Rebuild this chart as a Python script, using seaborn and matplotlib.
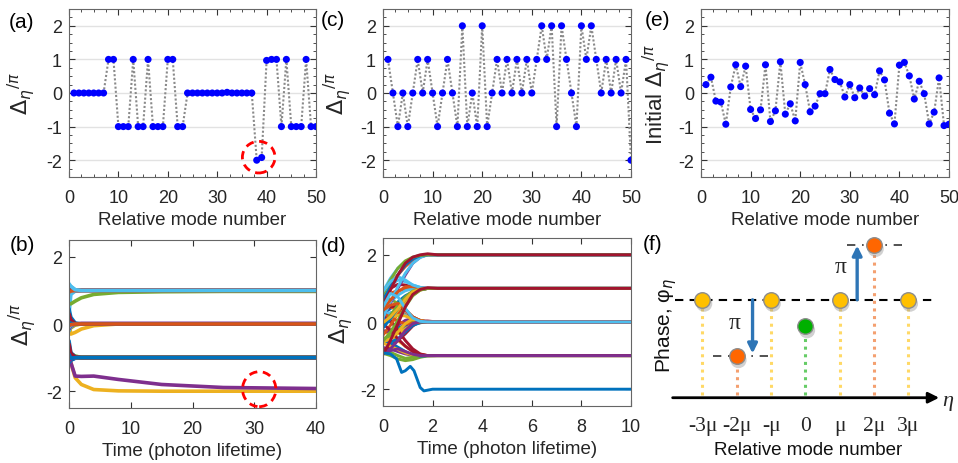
import numpy as np
import pandas as pd
import matplotlib
matplotlib.use("Agg")
import matplotlib.pyplot as plt
from matplotlib.patches import Ellipse
from matplotlib.ticker import AutoMinorLocator
import seaborn as sns

sns.set_theme(style="white")
plt.rcParams["font.family"] = ["Liberation Sans", "DejaVu Sans"]
plt.rcParams["mathtext.fontset"] = "dejavusans"
plt.rcParams["axes.unicode_minus"] = False

# ---------------- data ----------------
modes = list(range(1, 51))

# (a) final relative phase (units of pi)
a_vals = [0, 0, 0, 0, 0, 0, 0, 1, 1, -1,
          -1, -1, 1, -1, -1, 1, -1, -1, -1, 1,
          1, -1, -1, 0, 0, 0, 0, 0, 0, 0,
          0, 0.02, 0, 0, 0, 0, 0, -2, -1.92, 0.97,
          1, 1, -1, 1, -1, -1, -1, 1, -1, -1]

# (c) final relative phase (units of pi)
c_vals = [1, 0, -1, 0, -1, 0, 1, 0, 1, 0,
          -1, 0, 1, 0, -1, 2, -1, 0, -1, 2,
          -1, 0, 1, 0, 1, 0, 1, 0, 1, 0,
          1, 2, 1, 2, -1, 2, 1, 0, -1, 2,
          1, 2, 1, 0, 1, 0, 1, 0, 1, -2]

# (e) initial relative phase (units of pi)
e_vals = [0.25, 0.47, -0.24, -0.27, -0.93, 0.18, 0.84, 0.19, 0.80, -0.49,
          -0.76, -0.50, 0.84, -0.85, -0.53, 0.93, -0.63, -0.32, -0.83, 0.91,
          0.25, -0.56, -0.39, -0.02, -0.02, 0.70, 0.40, 0.33, -0.12, 0.25,
          -0.14, 0.15, -0.09, 0.13, -0.05, 0.66, 0.39, -0.60, -0.92, 0.83,
          0.91, 0.51, -0.18, 0.35, -0.02, -0.92, -0.57, 0.45, -0.97, -0.93]

# (b) time evolution, sampled at these times (photon lifetimes)
t_b = [0, 0.3, 1, 2, 4, 8, 15, 25, 40]
b_rows = [
    [0.05, 0.02, 0, 0, 0, 0, 0, 0, 0],
    [-0.10, -0.04, 0, 0, 0, 0, 0, 0, 0],
    [0.00, -0.12, -0.03, 0, 0, 0, 0, 0, 0],
    [0.12, 0.05, 0, 0, 0, 0, 0, 0, 0],
    [-0.15, -0.08, -0.01, 0, 0, 0, 0, 0, 0],
    [0.20, 0.08, 0.01, 0, 0, 0, 0, 0, 0],
    [-0.05, -0.02, 0, 0, 0, 0, 0, 0, 0],
    [1.00, 1.06, 1, 1, 1, 1, 1, 1, 1],
    [0.85, 0.93, 0.99, 1, 1, 1, 1, 1, 1],
    [-0.80, -0.92, -0.99, -1, -1, -1, -1, -1, -1],
    [-1.10, -1.05, -1, -1, -1, -1, -1, -1, -1],
    [-0.70, -0.88, -0.96, -0.99, -1, -1, -1, -1, -1],
    [1.10, 1.06, 1, 1, 1, 1, 1, 1, 1],
    [-0.85, -0.95, -1, -1, -1, -1, -1, -1, -1],
    [-1.00, -1.08, -1.02, -1, -1, -1, -1, -1, -1],
    [0.90, 0.96, 1, 1, 1, 1, 1, 1, 1],
    [-0.90, -0.98, -1, -1, -1, -1, -1, -1, -1],
    [-1.05, -1.00, -1, -1, -1, -1, -1, -1, -1],
    [-0.80, -0.88, -0.96, -0.99, -1, -1, -1, -1, -1],
    [0.30, 0.88, 0.98, 1, 1, 1, 1, 1, 1],
    [1.00, 1.00, 1, 1, 1, 1, 1, 1, 1],
    [-0.50, -0.85, -0.98, -1, -1, -1, -1, -1, -1],
    [-1.05, -1.02, -1, -1, -1, -1, -1, -1, -1],
    [0.00, -0.30, -0.25, -0.15, -0.05, 0, 0, 0, 0],
    [0.10, 0.05, 0, 0, 0, 0, 0, 0, 0],
    [-0.20, -0.10, -0.02, 0, 0, 0, 0, 0, 0],
    [-0.20, -0.08, 0, 0, 0, 0, 0, 0, 0],
    [0.20, 0.10, 0.01, 0, 0, 0, 0, 0, 0],
    [0.45, 0.20, 0.03, 0, 0, 0, 0, 0, 0],
    [-0.10, -0.05, 0, 0, 0, 0, 0, 0, 0],
    [0.05, -0.05, -0.01, 0, 0, 0, 0, 0, 0],
    [-0.15, -0.06, 0, 0.02, 0.02, 0.02, 0.02, 0.02, 0.02],
    [0.15, 0.06, 0, 0, 0, 0, 0, 0, 0],
    [-0.10, -0.03, 0, 0, 0, 0, 0, 0, 0],
    [0.30, 0.12, 0.01, 0, 0, 0, 0, 0, 0],
    [0.05, 0.02, 0, 0, 0, 0, 0, 0, 0],
    [-0.05, -0.02, 0, 0, 0, 0, 0, 0, 0],
    [-0.95, -1.15, -1.60, -1.80, -1.95, -1.99, -2, -2, -2],
    [-1.00, -1.15, -1.55, -1.56, -1.55, -1.65, -1.80, -1.89, -1.92],
    [0.60, 0.60, 0.68, 0.78, 0.88, 0.94, 0.96, 0.97, 0.97],
    [1.15, 1.12, 1.02, 1, 1, 1, 1, 1, 1],
    [1.05, 1.02, 1, 1, 1, 1, 1, 1, 1],
    [-1.15, -1.08, -1.01, -1, -1, -1, -1, -1, -1],
    [0.95, 0.98, 1, 1, 1, 1, 1, 1, 1],
    [-0.95, -0.98, -1, -1, -1, -1, -1, -1, -1],
    [-1.10, -1.04, -1, -1, -1, -1, -1, -1, -1],
    [-0.90, -0.95, -0.99, -1, -1, -1, -1, -1, -1],
    [1.20, 1.12, 1.02, 1, 1, 1, 1, 1, 1],
    [-0.60, -0.88, -0.98, -1, -1, -1, -1, -1, -1],
    [-0.90, -1.02, -1, -1, -1, -1, -1, -1, -1],
]

# (d) time evolution, sampled at these times (photon lifetimes)
t_d = [0, 0.3, 0.6, 0.9, 1.2, 1.5, 1.8, 2.2, 10]
d_rows = [
    [0.25, 0.40, 0.60, 0.78, 0.90, 0.97, 1.0, 1.0, 1.0],
    [0.47, 0.45, 0.35, 0.22, 0.10, 0.03, 0.0, 0.0, 0.0],
    [-0.24, -0.40, -0.55, -0.72, -0.87, -0.96, -1.0, -1.0, -1.0],
    [-0.27, -0.25, -0.18, -0.10, -0.03, 0.0, 0.0, 0.0, 0.0],
    [-0.93, -1.00, -1.10, -1.15, -1.12, -1.05, -1.01, -1.0, -1.0],
    [0.18, 0.28, 0.30, 0.20, 0.08, 0.02, 0.0, 0.0, 0.0],
    [0.84, 1.00, 1.12, 1.10, 1.04, 1.01, 1.0, 1.0, 1.0],
    [0.19, 0.00, -0.15, -0.18, -0.08, -0.02, 0.0, 0.0, 0.0],
    [0.80, 0.86, 0.93, 0.98, 1.00, 1.0, 1.0, 1.0, 1.0],
    [-0.49, -0.45, -0.35, -0.20, -0.08, -0.02, 0.0, 0.0, 0.0],
    [-0.76, -0.80, -0.88, -0.95, -0.99, -1.0, -1.0, -1.0, -1.0],
    [-0.50, -0.42, -0.25, -0.05, 0.05, 0.03, 0.0, 0.0, 0.0],
    [0.84, 1.10, 1.25, 1.20, 1.10, 1.03, 1.0, 1.0, 1.0],
    [-0.85, -0.72, -0.55, -0.35, -0.12, 0.03, 0.03, 0.0, 0.0],
    [-0.53, -0.62, -0.75, -0.88, -0.98, -1.03, -1.0, -1.0, -1.0],
    [0.93, 1.15, 1.40, 1.65, 1.85, 1.95, 2.0, 2.0, 2.0],
    [-0.63, -0.72, -0.82, -0.92, -0.98, -1.0, -1.0, -1.0, -1.0],
    [-0.32, -0.25, -0.10, 0.05, 0.10, 0.05, 0.0, 0.0, 0.0],
    [-0.83, -0.90, -1.00, -1.08, -1.05, -1.01, -1.0, -1.0, -1.0],
    [0.91, 1.30, 1.60, 1.80, 1.90, 1.97, 2.0, 2.0, 2.0],
    [0.25, 0.05, -0.25, -0.55, -0.80, -0.95, -1.0, -1.0, -1.0],
    [-0.56, -0.60, -0.50, -0.30, -0.10, -0.02, 0.0, 0.0, 0.0],
    [-0.39, -0.10, 0.25, 0.55, 0.80, 0.95, 1.0, 1.0, 1.0],
    [-0.02, 0.10, 0.20, 0.18, 0.08, 0.02, 0.0, 0.0, 0.0],
    [-0.02, 0.20, 0.45, 0.70, 0.88, 0.97, 1.0, 1.0, 1.0],
    [0.70, 0.68, 0.55, 0.35, 0.15, 0.04, 0.0, 0.0, 0.0],
    [0.40, 0.60, 0.80, 0.93, 0.99, 1.0, 1.0, 1.0, 1.0],
    [0.33, 0.45, 0.48, 0.35, 0.15, 0.04, 0.0, 0.0, 0.0],
    [-0.12, 0.15, 0.45, 0.70, 0.88, 0.97, 1.0, 1.0, 1.0],
    [0.25, 0.15, 0.02, -0.05, -0.03, 0.0, 0.0, 0.0, 0.0],
    [-0.14, 0.10, 0.35, 0.62, 0.85, 0.96, 1.0, 1.0, 1.0],
    [0.15, 0.55, 1.00, 1.40, 1.75, 1.93, 2.0, 2.0, 2.0],
    [-0.09, 0.20, 0.50, 0.75, 0.92, 0.99, 1.0, 1.0, 1.0],
    [0.13, 0.60, 1.05, 1.45, 1.75, 1.92, 2.0, 2.0, 2.0],
    [-0.05, -0.25, -0.50, -0.72, -0.88, -0.97, -1.0, -1.0, -1.0],
    [0.66, 1.05, 1.40, 1.70, 1.88, 1.97, 2.0, 2.0, 2.0],
    [0.39, 0.65, 0.90, 1.05, 1.05, 1.02, 1.0, 1.0, 1.0],
    [-0.60, -0.50, -0.30, -0.05, 0.10, 0.05, 0.0, 0.0, 0.0],
    [-0.92, -0.85, -0.80, -0.88, -0.96, -1.0, -1.0, -1.0, -1.0],
    [0.83, 1.25, 1.60, 1.82, 1.93, 1.98, 2.0, 2.0, 2.0],
    [0.91, 1.20, 1.35, 1.25, 1.10, 1.03, 1.0, 1.0, 1.0],
    [0.51, 0.95, 1.40, 1.75, 1.93, 2.00, 2.03, 2.0, 2.0],
    [-0.18, 0.10, 0.40, 0.68, 0.88, 0.97, 1.0, 1.0, 1.0],
    [0.35, 0.50, 0.55, 0.38, 0.15, 0.04, 0.0, 0.0, 0.0],
    [-0.02, 0.15, 0.40, 0.68, 0.90, 0.98, 1.0, 1.0, 1.0],
    [-0.92, -0.80, -0.55, -0.25, -0.05, 0.02, 0.0, 0.0, 0.0],
    [-0.57, -0.30, 0.05, 0.45, 0.78, 0.95, 1.0, 1.0, 1.0],
    [0.45, 0.85, 0.75, 0.40, 0.12, 0.02, 0.0, 0.0, 0.0],
    [-0.97, -0.55, -0.05, 0.45, 0.82, 0.97, 1.02, 1.0, 1.0],
]
# mode 50 in (d) has its own sample times
t_d50 = [0, 0.3, 0.55, 0.75, 0.9, 1.1, 1.25, 1.5, 1.65, 2.0, 10]
d_row50 = [-0.92, -0.95, -1.10, -1.50, -1.45, -1.32, -1.45, -1.95, -2.05, -2.0, -2.0]

# (f) schematic
f_pos = [-3, -2, -1, 0, 1, 2, 3]
f_tick_labels = ["-3\u03bc", "-2\u03bc", "-\u03bc", "0", "\u03bc", "2\u03bc", "3\u03bc"]
f_phase = [1.77, 0.75, 1.77, 1.29, 1.77, 2.76, 1.77]
f_fill = ["#FFC000", "#FF6600", "#FFC000", "#00B000", "#FFC000", "#FF6600", "#FFC000"]
f_stem = ["#FFD966", "#F4A070", "#FFD966", "#66CC66", "#FFD966", "#F4A070", "#FFD966"]

matlab_colors = ["#0072BD", "#D95319", "#EDB120", "#7E2F8E", "#77AC30", "#4DBEEE", "#A2142F"]
palette = {m: matlab_colors[(m - 1) % 7] for m in modes}

# ---------------- figure ----------------
W, H = 958, 464
fig = plt.figure(figsize=(W / 100, H / 100), dpi=100)
TXT = "#262626"
LFS = 13.5   # axis label size
TFS = 13     # tick label size


def ax_px(l, t, r, b):
    return fig.add_axes([l / W, 1 - b / H, (r - l) / W, (b - t) / H])


def style(ax, minor):
    for s in ax.spines.values():
        s.set_color("#666666")
        s.set_linewidth(0.8)
    ax.tick_params(which="major", direction="in", top=True, right=True, length=4,
                   width=0.8, color="#333333", labelsize=TFS, labelcolor=TXT,
                   bottom=True, left=True)
    ax.tick_params(axis="x", which="major", pad=9)
    ax.tick_params(axis="y", which="major", pad=5)
    if minor:
        ax.xaxis.set_minor_locator(AutoMinorLocator(4))
        ax.yaxis.set_minor_locator(AutoMinorLocator(4))
        ax.tick_params(which="minor", direction="in", top=True, right=True, bottom=True,
                       left=True, length=2.2, width=0.6, color="#333333")


ylab = r"$\Delta_{\eta}{}^{/\pi}$"


def dot_panel(ax, vals, ylabel, lx):
    df = pd.DataFrame({"mode": modes, "val": vals})
    for y in [-2, -1, 0, 1, 2]:
        ax.axhline(y, color="#e2e2e2", lw=1.0, zorder=0)
    sns.lineplot(data=df, x="mode", y="val", ax=ax, color="#8a8a8a", lw=1.5,
                 linestyle=(0, (1, 1)), estimator=None, sort=False, zorder=2)
    sns.scatterplot(data=df, x="mode", y="val", ax=ax, color="#0000FF", s=26,
                    edgecolor="none", zorder=3)
    ax.set_xlim(0, 50)
    ax.set_ylim(-2.5, 2.5)
    ax.set_xticks([0, 10, 20, 30, 40, 50])
    ax.set_yticks([-2, -1, 0, 1, 2])
    ax.set_xlabel("Relative mode number", fontsize=LFS, color=TXT, labelpad=3)
    ax.set_ylabel(ylabel, fontsize=16, color=TXT)
    ax.yaxis.set_label_coords(lx, 0.5)
    style(ax, True)


def curve_panel(ax, rows, times, xmax, xticks, lw, lx, extra=None):
    recs = []
    for m, row in zip(modes, rows):
        for t, v in zip(times, row):
            recs.append((m, t, v))
    if extra is not None:
        for t, v in zip(extra[1], extra[2]):
            recs.append((extra[0], t, v))
    df = pd.DataFrame(recs, columns=["mode", "t", "v"])
    sns.lineplot(data=df, x="t", y="v", hue="mode", palette=palette, ax=ax,
                 lw=lw, estimator=None, sort=False, legend=False)
    for ln in ax.get_lines():
        ln.set_solid_capstyle("round")
        ln.set_solid_joinstyle("round")
    ax.set_xlim(0, xmax)
    ax.set_ylim(-2.5, 2.5)
    ax.set_xticks(xticks)
    ax.set_yticks([-2, 0, 2])
    ax.set_xlabel("Time (photon lifetime)", fontsize=LFS, color=TXT, labelpad=3)
    ax.set_ylabel(ylab, fontsize=16, color=TXT)
    ax.yaxis.set_label_coords(lx, 0.5)
    style(ax, False)


# (a)
axa = ax_px(69, 10, 316, 178)
dot_panel(axa, a_vals, ylab, -0.13)
axa.add_patch(Ellipse((38.4, -1.91), 6.6, 0.94, fill=False, ec="#FF0000", lw=2,
                      ls=(0, (3, 2)), zorder=4))
# (c)
axc = ax_px(383, 10, 631, 178)
dot_panel(axc, c_vals, ylab, -0.122)
# (e)
axe = ax_px(701, 10, 949, 178)
dot_panel(axe, e_vals, "Initial " + ylab, -0.118)

# (b)
axb = ax_px(69, 241, 316, 409)
curve_panel(axb, b_rows, t_b, 40, [0, 10, 20, 30, 40], 2.6, -0.125)
axb.add_patch(Ellipse((30.8, -1.94), 5.4, 1.04, fill=False, ec="#FF0000", lw=2,
                      ls=(0, (3, 2)), zorder=5))
# (d)
axd = ax_px(383, 239, 631, 407)
curve_panel(axd, d_rows, t_d, 10, [0, 2, 4, 6, 8, 10], 2.1, -0.114,
            extra=(50, t_d50, d_row50))

# (f) schematic
axf = ax_px(650, 230, 958, 464)
axf.set_xlim(-4.53, 4.45)
axf.set_ylim(-1.18, 3.05)
axf.axis("off")
serif = ["Liberation Serif", "DejaVu Serif"]
axf.annotate("", xy=(3.9, 0), xytext=(-3.87, 0),
             arrowprops=dict(arrowstyle="-|>", lw=2, color="black", mutation_scale=16,
                             shrinkA=0, shrinkB=0))
axf.text(3.98, -0.05, "\u03b7", fontsize=16, style="italic", family=serif,
         ha="left", va="center")
axf.plot([-3.8, 3.78], [1.77, 1.77], color="black", lw=1.5, ls=(0, (4, 3)), zorder=1)
axf.plot([-2.68, -1.03], [0.75, 0.75], color="#333333", lw=1.2, ls=(0, (5, 4, 1, 4)), zorder=1)
axf.plot([1.22, 2.85], [2.76, 2.76], color="#333333", lw=1.2, ls=(0, (5, 4, 1, 4)), zorder=1)
for x, y, fc, sc, lab in zip(f_pos, f_phase, f_fill, f_stem, f_tick_labels):
    axf.plot([x, x], [0.05, y], color=sc, lw=2.2, ls=(0, (1, 1.5)), zorder=2)
    axf.scatter([x + 0.05], [y - 0.07], s=135, color="#999999", alpha=0.45,
                edgecolors="none", zorder=3)
    axf.scatter([x], [y], s=125, color=fc, edgecolors="#8c8c8c", linewidths=1, zorder=4)
    axf.text(x, -0.5, lab, fontsize=15.5, family=serif, ha="center", va="center")
axf.annotate("", xy=(-1.54, 0.80), xytext=(-1.54, 1.77),
             arrowprops=dict(arrowstyle="-|>", lw=2.4, color="#2E75B6", mutation_scale=14,
                             shrinkA=0, shrinkB=0), zorder=5)
axf.annotate("", xy=(1.51, 2.75), xytext=(1.51, 1.77),
             arrowprops=dict(arrowstyle="-|>", lw=2.4, color="#2E75B6", mutation_scale=14,
                             shrinkA=0, shrinkB=0), zorder=5)
axf.text(-2.07, 1.36, "\u03c0", fontsize=17, family=serif, ha="center", va="center")
axf.text(1.04, 2.37, "\u03c0", fontsize=17, family=serif, ha="center", va="center")
axf.text(0.08, -0.93, "Relative mode number", fontsize=LFS, ha="center", va="center",
         color="#111111")
axf.text(-4.07, 1.32, "Phase, \u03c6" + r"$_{\eta}$", fontsize=15, rotation=90,
         ha="center", va="center", color="#111111")

# panel labels
for lab, (x, y) in {"(a)": (22, 22), "(c)": (333, 21), "(e)": (658, 21),
                    "(b)": (22, 246), "(d)": (334, 247), "(f)": (653, 245)}.items():
    fig.text(x / W, 1 - y / H, lab, fontsize=15, ha="center", va="center", color="black")

fig.savefig("out.png", dpi=100, facecolor="white")
